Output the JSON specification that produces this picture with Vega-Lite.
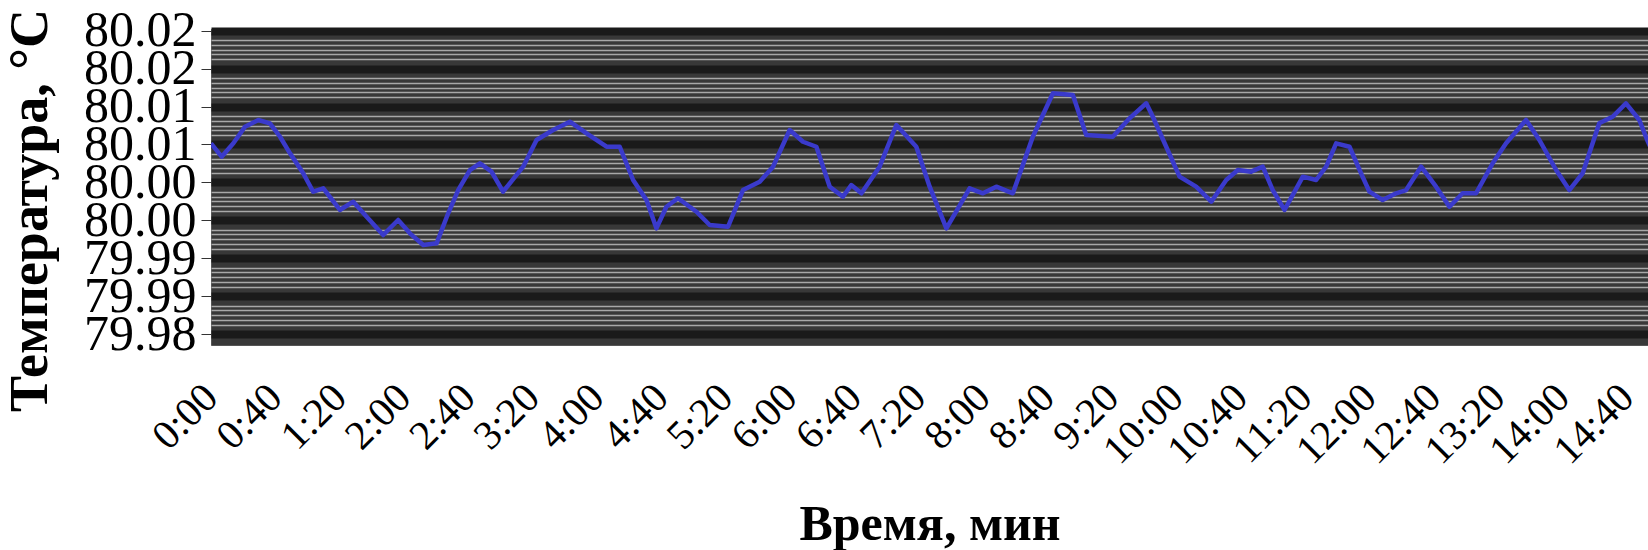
{
  "$schema": "https://vega.github.io/schema/vega-lite/v6.json",
  "autosize": {"type": "none"},
  "padding": {"left": 211, "top": 29, "right": 0, "bottom": 205},
  "width": 1437,
  "height": 316,
  "background": "#ffffff",
  "config": {
    "view": {"fill": "#383838", "stroke": "#555555"},
    "axis": {"labelFont": "Liberation Serif", "titleFont": "Liberation Serif", "labelColor": "#000000", "titleColor": "#000000"}
  },
  "data": {"values": [
    {"t": 0, "v": 80.00515}, {"t": 6.6, "v": 80.00339}, {"t": 13.9, "v": 80.00515}, {"t": 21.1, "v": 80.00734},
    {"t": 29.4, "v": 80.00823}, {"t": 36.6, "v": 80.00779}, {"t": 42.9, "v": 80.00602}, {"t": 49.1, "v": 80.00383},
    {"t": 57.3, "v": 80.0012}, {"t": 63.5, "v": 79.99877}, {"t": 69.8, "v": 79.99922}, {"t": 80.1, "v": 79.99636},
    {"t": 88.4, "v": 79.99745}, {"t": 96.7, "v": 79.99547}, {"t": 107.0, "v": 79.99306}, {"t": 116.3, "v": 79.99504},
    {"t": 123.6, "v": 79.99328}, {"t": 131.9, "v": 79.99174}, {"t": 140.2, "v": 79.99196}, {"t": 147.4, "v": 79.99592},
    {"t": 153.6, "v": 79.99899}, {"t": 160.9, "v": 80.00163}, {"t": 167.1, "v": 80.00252}, {"t": 174.3, "v": 80.00141},
    {"t": 181.5, "v": 79.99877}, {"t": 194.0, "v": 80.00207}, {"t": 202.3, "v": 80.00559}, {"t": 212.6, "v": 80.00691},
    {"t": 223.0, "v": 80.008}, {"t": 233.4, "v": 80.00647}, {"t": 245.8, "v": 80.0047}, {"t": 254.0, "v": 80.0047},
    {"t": 262.3, "v": 80.00031}, {"t": 270.6, "v": 79.99767}, {"t": 276.8, "v": 79.99394}, {"t": 283.0, "v": 79.99679},
    {"t": 290.2, "v": 79.9979}, {"t": 301.7, "v": 79.99613}, {"t": 309.9, "v": 79.99438}, {"t": 321.3, "v": 79.99415},
    {"t": 330.6, "v": 79.99899}, {"t": 341.0, "v": 80.00009}, {"t": 349.3, "v": 80.00207}, {"t": 359.6, "v": 80.00691},
    {"t": 367.9, "v": 80.00536}, {"t": 376.2, "v": 80.0047}, {"t": 384.5, "v": 79.99943}, {"t": 392.7, "v": 79.99811},
    {"t": 397.9, "v": 79.99965}, {"t": 404.2, "v": 79.99856}, {"t": 415.5, "v": 80.00207}, {"t": 425.9, "v": 80.00757},
    {"t": 438.3, "v": 80.0047}, {"t": 446.6, "v": 79.99943}, {"t": 457.0, "v": 79.99394}, {"t": 471.4, "v": 79.99922},
    {"t": 479.7, "v": 79.99856}, {"t": 488.0, "v": 79.99943}, {"t": 498.3, "v": 79.99856}, {"t": 510.7, "v": 80.00602},
    {"t": 523.2, "v": 80.01175}, {"t": 535.6, "v": 80.01152}, {"t": 543.9, "v": 80.00625}, {"t": 560.4, "v": 80.00602},
    {"t": 570.8, "v": 80.00845}, {"t": 581.2, "v": 80.01043}, {"t": 585.3, "v": 80.00866}, {"t": 593.6, "v": 80.0047},
    {"t": 601.9, "v": 80.00075}, {"t": 612.2, "v": 79.99943}, {"t": 621.6, "v": 79.99745}, {"t": 630.9, "v": 80.00031},
    {"t": 638.1, "v": 80.00163}, {"t": 646.4, "v": 80.00141}, {"t": 653.6, "v": 80.00207}, {"t": 659.8, "v": 79.99899},
    {"t": 667.1, "v": 79.99636}, {"t": 678.5, "v": 80.00075}, {"t": 686.8, "v": 80.00031}, {"t": 693.0, "v": 80.00207},
    {"t": 699.2, "v": 80.00515}, {"t": 707.5, "v": 80.0047}, {"t": 714.7, "v": 80.0012}, {"t": 719.9, "v": 79.99877},
    {"t": 728.1, "v": 79.99767}, {"t": 736.5, "v": 79.99856}, {"t": 742.7, "v": 79.99899}, {"t": 752.0, "v": 80.00207},
    {"t": 761.3, "v": 79.99943}, {"t": 769.6, "v": 79.99679}, {"t": 777.8, "v": 79.99856}, {"t": 786.1, "v": 79.99856},
    {"t": 796.5, "v": 80.00252}, {"t": 804.8, "v": 80.00515}, {"t": 817.2, "v": 80.00823}, {"t": 825.5, "v": 80.00559},
    {"t": 835.9, "v": 80.00163}, {"t": 844.1, "v": 79.99899}, {"t": 852.4, "v": 80.0012}, {"t": 862.7, "v": 80.00779},
    {"t": 871.0, "v": 80.00866}, {"t": 879.3, "v": 80.01043}, {"t": 887.6, "v": 80.00823}, {"t": 892.5, "v": 80.00559},
    {"t": 900.0, "v": 80.0021}
  ]},
  "mark": {"type": "line", "color": "#3a3acb", "strokeWidth": 4.5, "clip": true, "strokeJoin": "round"},
  "encoding": {
    "x": {
      "field": "t", "type": "quantitative",
      "scale": {"domain": [0, 893], "nice": false, "zero": false},
      "axis": {
        "title": "Время, мин", "titleFontSize": 50, "titleFontWeight": "bold", "titlePadding": 28,
        "values": [0, 40, 80, 120, 160, 200, 240, 280, 320, 360, 400, 440, 480, 520, 560, 600, 640, 680, 720, 760, 800, 840, 880],
        "labelExpr": "floor(datum.value / 60) + ':' + pad(datum.value % 60, 2, '0', 'left')",
        "labelAngle": -45, "labelAlign": "right", "labelBaseline": "middle", "labelFontSize": 41, "labelPadding": 46,
        "labelOverlap": false, "labelBound": false, "labelFlush": false,
        "ticks": false, "domain": false, "grid": false
      }
    },
    "y": {
      "field": "v", "type": "quantitative",
      "scale": {"domain": [79.97855, 80.02023], "nice": false, "zero": false},
      "axis": {
        "title": "Температура, °C", "titleFontSize": 54, "titleFontWeight": "bold",
        "titleX": -165, "titleY": 181, "titleBaseline": "alphabetic", "titleAngle": -90,
        "values": [79.98, 79.980625, 79.98125, 79.981875, 79.9825, 79.983125, 79.98375, 79.984375, 79.985, 79.985625, 79.98625, 79.986875, 79.9875, 79.988125, 79.98875, 79.989375, 79.99, 79.990625, 79.99125, 79.991875, 79.9925, 79.993125, 79.99375, 79.994375, 79.995, 79.995625, 79.99625, 79.996875, 79.9975, 79.998125, 79.99875, 79.999375, 80.0, 80.000625, 80.00125, 80.001875, 80.0025, 80.003125, 80.00375, 80.004375, 80.005, 80.005625, 80.00625, 80.006875, 80.0075, 80.008125, 80.00875, 80.009375, 80.01, 80.010625, 80.01125, 80.011875, 80.0125, 80.013125, 80.01375, 80.014375, 80.015, 80.015625, 80.01625, 80.016875, 80.0175, 80.018125, 80.01875, 80.019375, 80.02],
        "labelExpr": "((round((datum.value - 79.98) / 0.000625) % 8) + 8) % 8 == 0 ? format(datum.value + 0.0001, '.2f') : ''",
        "labelFontSize": 50, "labelPadding": 5, "labelOverlap": false, "labelBound": false, "labelFlush": false,
        "tickSize": 10, "tickColor": "#333333",
        "tickOpacity": {"condition": {"test": "((round((datum.value - 79.98) / 0.000625) % 8) + 8) % 8 == 0", "value": 1}, "value": 0},
        "grid": true,
        "gridColor": {"condition": {"test": "((round((datum.value - 79.98) / 0.000625) % 8) + 8) % 8 == 0", "value": "#1a1a1a"}, "value": "#a8a8a8"},
        "gridWidth": {"condition": {"test": "((round((datum.value - 79.98) / 0.000625) % 8) + 8) % 8 == 0", "value": 8}, "value": 1.5},
        "gridOpacity": {"condition": {"test": "indexof([1, 7], ((round((datum.value - 79.98) / 0.000625) % 8) + 8) % 8) >= 0", "value": 0}, "value": 1},
        "domain": false
      }
    }
  }
}
